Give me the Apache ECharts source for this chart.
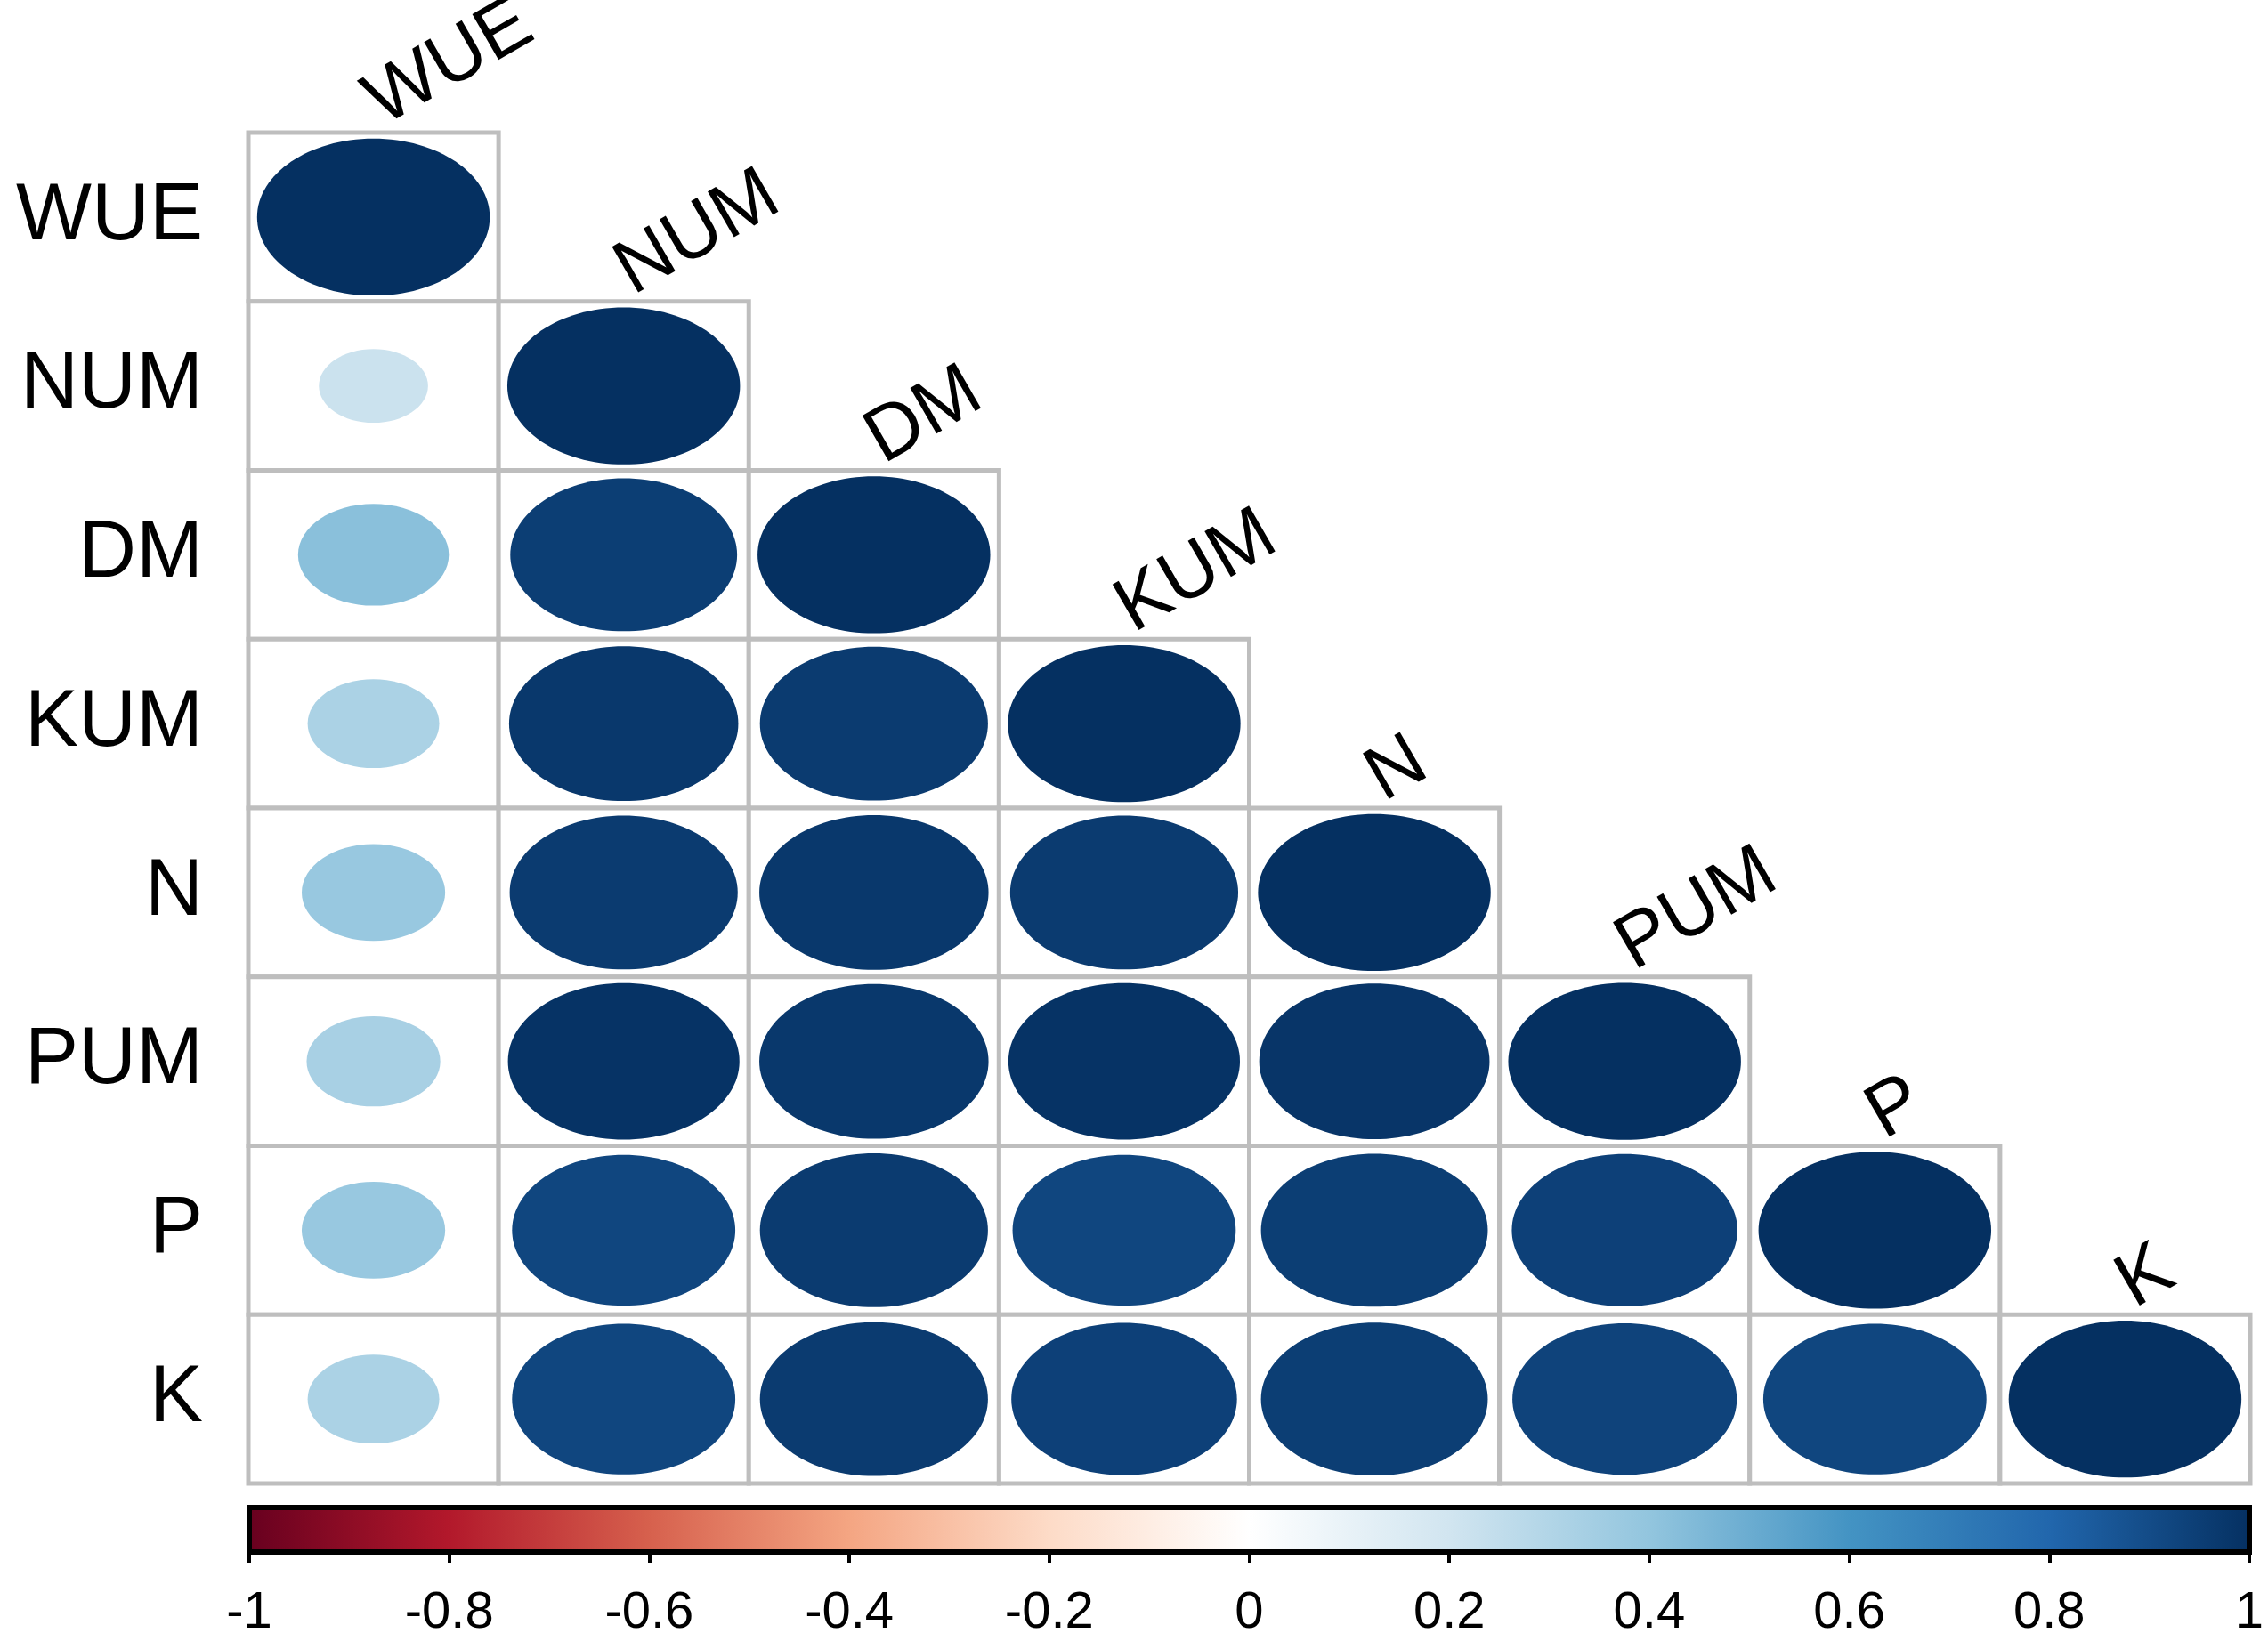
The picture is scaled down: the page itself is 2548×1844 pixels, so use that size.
<!DOCTYPE html>
<html>
<head>
<meta charset="utf-8">
<script src="https://cdn.jsdelivr.net/npm/echarts@6/dist/echarts.min.js"></script>
<style>html,body{margin:0;padding:0;background:#fff}#c{width:2548px;height:1844px}</style>
</head>
<body>
<div id="c"></div>
<script>
// variables (row / column order)
var variables = ['WUE', 'NUM', 'DM', 'KUM', 'N', 'PUM', 'P', 'K'];
// lower-triangular correlation matrix, row i has i+1 values (columns 0..i)
var corrRows = [
  [1],
  [0.22, 1],
  [0.42, 0.95, 1],
  [0.32, 0.97, 0.96, 1],
  [0.38, 0.96, 0.97, 0.96, 1],
  [0.33, 0.99, 0.97, 0.99, 0.98, 1],
  [0.38, 0.92, 0.96, 0.92, 0.95, 0.94, 1],
  [0.32, 0.92, 0.96, 0.94, 0.95, 0.93, 0.92, 1]
];
// colour bar ticks
var barTicks = [-1, -0.8, -0.6, -0.4, -0.2, 0, 0.2, 0.4, 0.6, 0.8, 1];
// RdBu palette from -1 to 1
var palette = ['#67001F', '#B2182B', '#D6604D', '#F4A582', '#FDDBC7', '#FFFFFF',
               '#D1E5F0', '#92C5DE', '#4393C3', '#2166AC', '#053061'];

var cells = [];
corrRows.forEach(function (row, i) {
  row.forEach(function (v, j) { cells.push([j, i, v]); });
});

var chart = echarts.init(document.getElementById('c'));
var FONT = 'Liberation Sans, Arial, Helvetica, sans-serif';

chart.setOption({
  backgroundColor: '#fff',
  animation: false,
  grid: [
    { left: 279, right: 20, top: 149, height: 1518 },
    {
      left: 280, right: 21, top: 1694, height: 50, show: true,
      borderColor: '#000', borderWidth: 6,
      backgroundColor: {
        type: 'linear', x: 0, y: 0, x2: 1, y2: 0,
        colorStops: palette.map(function (c, i) { return { offset: i / (palette.length - 1), color: c }; })
      }
    }
  ],
  xAxis: [
    { gridIndex: 0, type: 'category', data: variables, show: false },
    {
      gridIndex: 1, type: 'value', min: barTicks[0], max: barTicks[barTicks.length - 1], interval: 0.2,
      axisLine: { show: false },
      splitLine: { show: false },
      axisTick: { show: true, length: 12, lineStyle: { color: '#000', width: 4 } },
      axisLabel: {
        color: '#000', fontSize: 58, fontFamily: FONT, margin: 40,
        formatter: function (v) { return String(+v.toFixed(1)); }
      }
    }
  ],
  yAxis: [
    {
      gridIndex: 0, type: 'category', data: variables, inverse: true,
      axisLine: { show: false }, axisTick: { show: false }, splitLine: { show: false },
      axisLabel: { color: '#000', fontSize: 90, fontFamily: FONT, margin: 51 }
    },
    { gridIndex: 1, type: 'value', min: 0, max: 1, show: false }
  ],
  visualMap: {
    type: 'continuous', show: false, min: -1, max: 1, dimension: 2, seriesIndex: 0,
    inRange: { color: palette }
  },
  series: [{
    type: 'custom',
    xAxisIndex: 0, yAxisIndex: 0,
    data: cells,
    renderItem: function (params, api) {
      var x = api.value(0), y = api.value(1), v = api.value(2);
      var c = api.coord([x, y]);
      var s = api.size([1, 1]);
      var k = 0.465 * Math.sqrt(Math.abs(v));
      var children = [
        {
          type: 'rect',
          shape: { x: c[0] - s[0] / 2, y: c[1] - s[1] / 2, width: s[0], height: s[1] },
          style: { fill: '#fff', stroke: '#bebebe', lineWidth: 5 }
        },
        {
          type: 'ellipse',
          shape: { cx: c[0], cy: c[1], rx: s[0] * k, ry: s[1] * k },
          style: { fill: api.visual('color') }
        }
      ];
      if (x === y) {
        children.push({
          type: 'text',
          x: c[0] + 20, y: c[1] - s[1] / 2 + 10,
          rotation: 30 * Math.PI / 180,
          style: {
            text: variables[x], fill: '#000', fontSize: 86, fontFamily: FONT,
            align: 'left', verticalAlign: 'bottom'
          }
        });
      }
      return { type: 'group', children: children };
    }
  }]
});
</script>
</body>
</html>
